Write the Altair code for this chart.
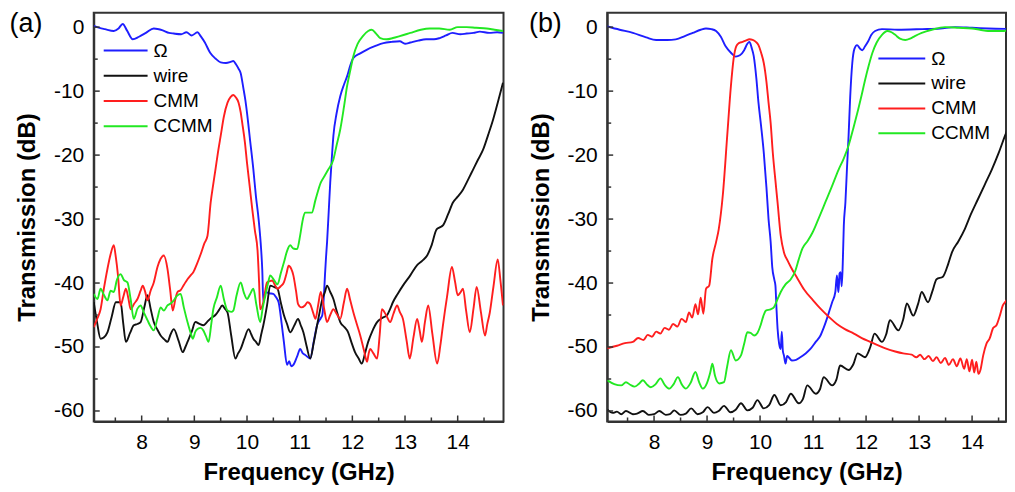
import altair as alt
import pandas as pd

FONT = "Liberation Sans"
SERIES = ["Ω", "wire", "CMM", "CCMM"]
COLORS = ["#1e1eff", "#111111", "#ff1e1e", "#22e822"]

X_MAJOR = [8, 9, 10, 11, 12, 13, 14]
X_MINOR = [7.5, 8.5, 9.5, 10.5, 11.5, 12.5, 13.5, 14.5]
Y_MAJOR = [0, -10, -20, -30, -40, -50, -60]
Y_MINOR = [-5, -15, -25, -35, -45, -55]

# ---------------- panel (a) ----------------
A_OMEGA = [(7.09,0.2),(7.2,-0.1),(7.3,-0.3),(7.47,-0.6),(7.56,-0.2),(7.64,0.5),(7.72,-0.5),(7.83,-1.9),(7.95,-1.5),(8.08,-0.9),(8.23,-0.2),(8.4,-0.5),(8.52,-0.9),(8.61,-1.0),(8.75,-1.1),(8.85,-0.8),(8.95,-1.3),(9.06,-0.8),(9.12,-1.4),(9.2,-2.4),(9.3,-4.0),(9.4,-4.9),(9.5,-5.5),(9.6,-5.6),(9.7,-5.4),(9.74,-5.3),(9.79,-5.8),(9.84,-6.5),(9.88,-7.2),(9.93,-9.5),(9.97,-11.5),(10.0,-13.4),(10.06,-17.8),(10.12,-22.2),(10.17,-26.5),(10.22,-30),(10.26,-33.8),(10.29,-38),(10.31,-43),(10.35,-41.4),(10.42,-41.6),(10.5,-41.7),(10.55,-42.2),(10.6,-43),(10.66,-46.5),(10.7,-49.2),(10.76,-52.8),(10.8,-52.2),(10.84,-53),(10.88,-52.8),(10.95,-51.5),(11.01,-50.3),(11.06,-51.0),(11.1,-51.2),(11.2,-51.8),(11.27,-49),(11.33,-46.6),(11.4,-45.5),(11.43,-45),(11.46,-42),(11.48,-38.8),(11.5,-36),(11.52,-33.6),(11.55,-29),(11.58,-24.3),(11.61,-20.5),(11.64,-17),(11.7,-13.5),(11.77,-10.8),(11.84,-9.0),(11.9,-7.7),(11.96,-6.0),(12.02,-4.8),(12.15,-4.1),(12.28,-3.5),(12.45,-2.9),(12.59,-2.5),(12.75,-2.3),(12.9,-2.2),(13.0,-2.6),(13.1,-2.4),(13.25,-2.1),(13.4,-1.9),(13.55,-1.9),(13.66,-1.7),(13.78,-1.3),(13.9,-0.9),(14.05,-1.1),(14.17,-1.0),(14.3,-0.9),(14.42,-0.7),(14.6,-0.9),(14.75,-0.8),(14.86,-0.9)]

A_WIRE = [(7.09,-43.0),(7.15,-46.0),(7.22,-48.7),(7.28,-48.5),(7.35,-47.7),(7.43,-45.3),(7.51,-43.0),(7.6,-43.0),(7.65,-46.3),(7.7,-49.2),(7.78,-47.8),(7.85,-46.6),(7.92,-46.4),(7.98,-46.1),(8.05,-43.8),(8.11,-41.9),(8.17,-44.0),(8.23,-46.1),(8.3,-47.3),(8.36,-48.2),(8.43,-48.8),(8.49,-49.2),(8.55,-48.0),(8.61,-47.2),(8.7,-49.0),(8.78,-50.8),(8.83,-50.0),(8.87,-49.2),(8.95,-47.6),(9.02,-46.1),(9.1,-46.4),(9.17,-46.6),(9.24,-46.1),(9.3,-45.6),(9.35,-45.3),(9.4,-45.0),(9.47,-44.2),(9.53,-43.5),(9.58,-44.0),(9.63,-44.6),(9.7,-48.2),(9.78,-51.8),(9.83,-51.0),(9.88,-50.3),(9.95,-48.7),(10.03,-47.2),(10.08,-48.0),(10.12,-48.7),(10.17,-49.2),(10.22,-49.7),(10.27,-48.0),(10.31,-46.6),(10.38,-43.5),(10.44,-40.4),(10.51,-40.6),(10.58,-40.9),(10.64,-43.0),(10.7,-45.0),(10.76,-46.4),(10.82,-47.7),(10.9,-46.6),(10.97,-45.6),(11.02,-46.6),(11.07,-47.7),(11.13,-49.8),(11.2,-51.8),(11.27,-49.2),(11.33,-46.6),(11.38,-44.5),(11.43,-42.5),(11.48,-41.4),(11.52,-40.4),(11.58,-41.4),(11.64,-42.5),(11.7,-44.3),(11.77,-46.1),(11.85,-46.9),(11.92,-47.7),(11.98,-49.2),(12.05,-50.8),(12.12,-51.8),(12.18,-52.6),(12.24,-51.0),(12.3,-49.2),(12.38,-47.5),(12.47,-46.1),(12.56,-45.5),(12.66,-45.0),(12.72,-44.0),(12.77,-43.0),(12.86,-41.7),(12.96,-40.4),(13.1,-38.8),(13.23,-37.2),(13.33,-36.5),(13.42,-35.7),(13.5,-34.2),(13.6,-31.6),(13.66,-31.3),(13.72,-31.0),(13.82,-29.2),(13.91,-27.4),(14.0,-26.5),(14.1,-25.4),(14.2,-23.8),(14.29,-22.3),(14.38,-20.8),(14.48,-19.2),(14.58,-16.8),(14.67,-14.5),(14.76,-11.8),(14.86,-8.7)]

A_CMM = [(7.09,-46.9),(7.16,-45.5),(7.22,-44.1),(7.28,-41.0),(7.35,-37.8),(7.41,-35.5),(7.47,-34.1),(7.51,-36),(7.55,-38.8),(7.6,-43.5),(7.65,-42.2),(7.7,-40.9),(7.75,-42.5),(7.79,-44.1),(7.86,-43.2),(7.92,-42.5),(7.98,-41.2),(8.02,-40.4),(8.07,-41.5),(8.11,-42.7),(8.17,-41.2),(8.23,-39.9),(8.3,-37.5),(8.36,-36.2),(8.42,-35.7),(8.49,-37.8),(8.54,-41),(8.59,-44.3),(8.64,-42.5),(8.68,-41.4),(8.74,-41.1),(8.8,-40.3),(8.87,-39.4),(8.93,-38.8),(8.98,-38.3),(9.05,-37.0),(9.12,-35.5),(9.19,-33.8),(9.25,-32.6),(9.31,-27.4),(9.36,-24.5),(9.4,-22.3),(9.45,-19.5),(9.5,-17.0),(9.56,-14.0),(9.63,-11.8),(9.69,-10.9),(9.74,-10.6),(9.79,-11.0),(9.84,-11.8),(9.88,-13.3),(9.91,-15.0),(9.96,-18.0),(10.0,-21.2),(10.05,-24.8),(10.1,-28.5),(10.15,-31.8),(10.2,-34.9),(10.23,-40),(10.25,-44.1),(10.31,-43.0),(10.38,-39.9),(10.43,-39.7),(10.48,-39.6),(10.53,-40.3),(10.58,-40.9),(10.64,-40.5),(10.7,-39.9),(10.75,-38.5),(10.79,-37.3),(10.84,-37.8),(10.88,-38.8),(10.93,-41.2),(10.97,-43.3),(11.03,-43.8),(11.1,-43.5),(11.15,-43.0),(11.2,-43.3),(11.25,-44.5),(11.3,-45.6),(11.35,-43.5),(11.4,-41.4),(11.46,-43.8),(11.52,-46.1),(11.58,-45.0),(11.64,-44.1),(11.7,-44.8),(11.77,-45.6),(11.84,-43.0),(11.9,-40.9),(11.96,-42.7),(12.02,-44.6),(12.08,-46.3),(12.15,-48.2),(12.22,-50.5),(12.28,-52.3),(12.31,-51.0),(12.34,-50.3),(12.4,-51.0),(12.47,-51.8),(12.52,-48.0),(12.56,-44.1),(12.64,-45.0),(12.72,-46.1),(12.78,-44.8),(12.85,-43.5),(12.9,-44.5),(12.96,-45.6),(13.03,-49),(13.09,-51.8),(13.16,-48.5),(13.23,-45.6),(13.28,-47.5),(13.32,-49.2),(13.38,-46.0),(13.44,-43.5),(13.52,-48),(13.61,-52.6),(13.67,-49.8),(13.72,-46.6),(13.8,-42.0),(13.89,-37.5),(13.95,-39.8),(14.0,-41.9),(14.05,-41.5),(14.1,-40.9),(14.16,-44.3),(14.23,-47.7),(14.3,-44.0),(14.36,-40.6),(14.44,-44.5),(14.52,-48.2),(14.56,-46.5),(14.61,-44.6),(14.68,-40.5),(14.76,-36.3),(14.81,-39.5),(14.86,-43.5)]

A_CCMM = [(7.09,-41.7),(7.16,-42.5),(7.22,-40.9),(7.28,-41.8),(7.35,-42.7),(7.41,-41.2),(7.47,-41.4),(7.53,-39.5),(7.6,-38.6),(7.66,-39.5),(7.73,-39.9),(7.79,-42.5),(7.85,-45.6),(7.92,-44.0),(7.98,-43.5),(8.04,-44.6),(8.11,-45.8),(8.17,-46.8),(8.23,-47.4),(8.3,-45.5),(8.36,-43.8),(8.42,-44.3),(8.49,-43.5),(8.55,-43.2),(8.61,-42.7),(8.67,-42.0),(8.74,-41.7),(8.8,-43.8),(8.87,-46.1),(8.93,-47.8),(8.97,-48.7),(9.02,-47.6),(9.06,-47.2),(9.12,-47.0),(9.17,-47.4),(9.22,-48.3),(9.27,-49.2),(9.32,-46.5),(9.36,-44.1),(9.43,-42.2),(9.5,-40.4),(9.56,-42.5),(9.63,-44.3),(9.7,-44.5),(9.74,-44.3),(9.8,-42.0),(9.88,-39.9),(9.94,-41.5),(10.0,-42.5),(10.06,-41.7),(10.12,-40.9),(10.18,-43.5),(10.25,-46.1),(10.3,-43.8),(10.35,-41.9),(10.4,-40.0),(10.44,-38.8),(10.51,-39.5),(10.58,-40.2),(10.64,-38.5),(10.7,-36.8),(10.76,-35.0),(10.82,-34.1),(10.88,-34.6),(10.95,-34.7),(11.01,-32.5),(11.05,-30.5),(11.1,-29.0),(11.17,-29.0),(11.23,-29.0),(11.3,-27),(11.4,-24.3),(11.47,-23.3),(11.54,-22.3),(11.64,-20.7),(11.7,-18.5),(11.77,-16.0),(11.84,-12.5),(11.9,-9.2),(11.96,-6.8),(12.02,-4.5),(12.1,-2.6),(12.2,-1.4),(12.3,-0.6),(12.37,-0.4),(12.45,-1.0),(12.53,-1.7),(12.65,-1.9),(12.77,-1.7),(12.9,-1.4),(13.1,-0.9),(13.3,-0.4),(13.47,-0.2),(13.65,-0.2),(13.85,-0.4),(14.0,0.0),(14.17,0.0),(14.35,-0.1),(14.55,-0.2),(14.7,-0.4),(14.86,-0.6)]

# ---------------- panel (b) ----------------
B_OMEGA = [(7.12,0.1),(7.35,-0.4),(7.6,-0.9),(7.85,-1.6),(8.04,-2.0),(8.25,-2.0),(8.41,-1.9),(8.58,-1.4),(8.73,-0.9),(8.88,-0.4),(8.98,-0.2),(9.08,-0.3),(9.17,-0.6),(9.26,-1.5),(9.35,-3.0),(9.45,-4.0),(9.54,-4.6),(9.62,-4.4),(9.7,-3.6),(9.76,-2.6),(9.8,-2.3),(9.84,-3.2),(9.88,-4.5),(9.93,-8),(9.97,-11.8),(10.02,-15.5),(10.07,-19.6),(10.12,-25),(10.16,-30),(10.2,-33.6),(10.23,-37.5),(10.27,-39.5),(10.29,-40.4),(10.31,-44),(10.33,-47.1),(10.36,-49.5),(10.39,-50.3),(10.41,-47.6),(10.43,-50.6),(10.45,-51.3),(10.48,-52.6),(10.51,-51.4),(10.54,-51.6),(10.6,-52.1),(10.68,-52.0),(10.76,-51.6),(10.86,-51.0),(10.95,-50.3),(11.05,-49.2),(11.14,-48.2),(11.2,-47.0),(11.26,-45.6),(11.31,-44.3),(11.36,-43.0),(11.42,-41.4),(11.45,-38.8),(11.47,-40.8),(11.48,-41.4),(11.5,-38.5),(11.52,-38.3),(11.54,-40.5),(11.56,-37),(11.58,-31),(11.61,-27.4),(11.64,-22),(11.67,-17),(11.7,-11),(11.74,-5.6),(11.78,-3.4),(11.83,-2.8),(11.88,-3.3),(11.93,-3.6),(11.98,-3.0),(12.04,-2.2),(12.1,-1.2),(12.17,-0.6),(12.3,-0.3),(12.6,-0.4),(13.06,-0.3),(13.4,-0.2),(13.68,0.0),(14.0,-0.1),(14.3,-0.2),(14.8,-0.3)]

B_WIRE = [(7.12,-59.8),(7.22,-60.3),(7.3,-60.1),(7.38,-60.5),(7.47,-60.0),(7.6,-60.5),(7.68,-60.4),(7.79,-60.0),(7.9,-60.6),(8.0,-60.5),(8.1,-60.0),(8.22,-60.6),(8.3,-60.5),(8.38,-59.9),(8.5,-60.6),(8.6,-60.4),(8.7,-59.6),(8.82,-60.5),(8.92,-60.2),(9.01,-59.4),(9.13,-60.3),(9.22,-60.0),(9.32,-59.2),(9.44,-60.2),(9.54,-59.8),(9.64,-58.8),(9.76,-59.9),(9.86,-59.5),(9.95,-58.3),(10.07,-59.6),(10.17,-59.1),(10.27,-57.5),(10.39,-59.1),(10.49,-58.6),(10.58,-57.3),(10.73,-58.8),(10.81,-58.1),(10.89,-56.0),(11.05,-57.3),(11.13,-56.6),(11.2,-54.7),(11.36,-56.0),(11.44,-55.1),(11.51,-52.9),(11.67,-53.6),(11.76,-52.7),(11.84,-51.0),(11.98,-51.6),(12.08,-50.0),(12.16,-47.9),(12.3,-49.2),(12.38,-48.0),(12.45,-45.8),(12.61,-47.4),(12.7,-45.7),(12.77,-43.2),(12.89,-45.1),(12.98,-43.3),(13.05,-41.4),(13.17,-43.0),(13.25,-41.3),(13.33,-39.4),(13.45,-39.0),(13.55,-37.0),(13.62,-35.2),(13.74,-33.5),(13.86,-31.6),(13.98,-29.2),(14.11,-26.9),(14.24,-24.6),(14.37,-22.3),(14.5,-19.7),(14.62,-17.0),(14.72,-14.9),(14.8,-12.9)]

B_CMM = [(7.12,-50.2),(7.3,-49.8),(7.45,-49.4),(7.6,-49.2),(7.7,-48.6),(7.8,-48.9),(7.88,-48.1),(7.96,-48.4),(8.04,-47.6),(8.12,-47.9),(8.2,-47.0),(8.28,-47.3),(8.36,-46.4),(8.44,-46.8),(8.52,-45.6),(8.6,-46.1),(8.66,-44.6),(8.72,-45.4),(8.78,-43.3),(8.83,-44.9),(8.88,-42.3),(8.93,-44.8),(8.98,-40.9),(9.04,-40.4),(9.1,-36.2),(9.17,-33.6),(9.22,-31.6),(9.3,-26),(9.38,-17),(9.45,-9.2),(9.5,-5),(9.55,-3.0),(9.6,-2.5),(9.67,-2.3),(9.73,-2.1),(9.8,-1.9),(9.86,-2.0),(9.92,-2.3),(9.97,-2.8),(10.02,-4.0),(10.07,-5.6),(10.12,-8.5),(10.16,-11.8),(10.2,-15),(10.24,-19.6),(10.29,-24),(10.33,-27.4),(10.39,-32.6),(10.45,-35.2),(10.52,-36.5),(10.58,-37.5),(10.7,-39.2),(10.83,-41.0),(11.0,-42.7),(11.14,-44.0),(11.3,-45.3),(11.45,-46.4),(11.6,-47.2),(11.77,-47.9),(11.92,-48.6),(12.08,-49.2),(12.24,-49.8),(12.39,-50.3),(12.55,-50.7),(12.7,-51.0),(12.86,-51.2),(12.95,-51.6),(13.02,-51.2),(13.1,-51.9),(13.18,-51.4),(13.26,-52.2),(13.33,-51.6),(13.41,-52.5),(13.49,-51.7),(13.56,-52.8),(13.64,-51.9),(13.71,-53.0),(13.78,-51.8),(13.85,-53.4),(13.9,-51.9),(13.95,-53.8),(14.0,-52.0),(14.04,-54.0),(14.08,-52.3),(14.12,-54.2),(14.16,-53.5),(14.21,-51.3),(14.27,-49.5),(14.33,-48.7),(14.4,-47.0),(14.46,-46.6),(14.52,-45.2),(14.58,-43.5),(14.64,-42.8),(14.71,-41.9),(14.8,-40.4)]

B_CCMM = [(7.12,-55.2),(7.25,-55.8),(7.38,-56.0),(7.47,-55.5),(7.55,-55.9),(7.63,-56.2),(7.71,-55.8),(7.79,-55.2),(7.87,-55.9),(7.94,-56.3),(8.03,-55.8),(8.12,-54.9),(8.2,-55.9),(8.29,-56.5),(8.37,-55.8),(8.45,-54.7),(8.52,-55.8),(8.6,-56.5),(8.69,-55.6),(8.78,-53.9),(8.85,-55.5),(8.92,-56.5),(9.0,-55.6),(9.06,-54),(9.1,-52.6),(9.15,-54.5),(9.23,-55.7),(9.32,-55.5),(9.38,-53),(9.45,-50.5),(9.54,-52.1),(9.64,-51.3),(9.7,-49.5),(9.76,-47.7),(9.82,-47.8),(9.89,-48.2),(9.95,-47.8),(10.01,-46.6),(10.06,-45.2),(10.11,-44.3),(10.2,-44.1),(10.26,-43.8),(10.33,-42.5),(10.39,-41.4),(10.48,-40.2),(10.58,-39.4),(10.66,-38.2),(10.73,-36.3),(10.8,-34.6),(10.9,-33.4),(10.99,-32.1),(11.1,-30.0),(11.23,-27.4),(11.35,-25),(11.48,-22.3),(11.58,-20.5),(11.67,-18.5),(11.76,-15.8),(11.85,-12.9),(11.92,-10.5),(11.98,-8.3),(12.05,-6),(12.12,-4.0),(12.2,-2.4),(12.3,-1.2),(12.4,-0.6),(12.48,-0.8),(12.55,-1.2),(12.64,-1.8),(12.74,-2.0),(12.83,-1.8),(12.92,-1.4),(13.05,-0.9),(13.24,-0.4),(13.49,0.0),(13.75,-0.1),(14.0,-0.2),(14.15,-0.4),(14.3,-0.6),(14.55,-0.6),(14.8,-0.4)]


def series_frame(pairs_by_name):
    rows = []
    for name, pts in pairs_by_name.items():
        for i, (f, t) in enumerate(pts):
            rows.append({"series": name, "freq": f, "trans": t, "order": i})
    return pd.DataFrame(rows)


H = 410
AXIS_COLOR = "#333333"
Y_DOMAIN = [-61.64, 2.26]

X_AXIS = alt.Axis(values=X_MAJOR, title="Frequency (GHz)", labelPadding=10, titlePadding=8)
Y_AXIS = alt.Axis(values=Y_MAJOR, title="Transmission (dB)", labelExpr="datum.value + ''",
                  labelPadding=10, titlePadding=14)


def panel(df, xdom, width, tag, tag_x, leg_x0, leg_x1, leg_tx, leg_y0, leg_dy):
    xs = alt.Scale(domain=xdom, nice=False, zero=False)
    ys = alt.Scale(domain=Y_DOMAIN, nice=False, zero=False)
    cs = alt.Scale(domain=SERIES, range=COLORS)

    lines = alt.Chart(df).mark_line(strokeWidth=1.9, clip=True, interpolate="monotone").encode(
        x=alt.X("freq:Q", scale=xs, axis=X_AXIS),
        y=alt.Y("trans:Q", scale=ys, axis=Y_AXIS),
        color=alt.Color("series:N", scale=cs, legend=None),
        order="order:Q",
    )

    layers = [lines]
    for vals, ln in ((X_MAJOR, 6), (X_MINOR, 4)):
        layers.append(alt.Chart(pd.DataFrame({"freq": vals})).mark_rule(
            color=AXIS_COLOR, strokeWidth=1.5).encode(
            x=alt.X("freq:Q", scale=xs, axis=X_AXIS),
            y=alt.value(H), y2=alt.value(H - ln)))
    for vals, ln in ((Y_MAJOR, 6), (Y_MINOR, 4)):
        layers.append(alt.Chart(pd.DataFrame({"trans": vals})).mark_rule(
            color=AXIS_COLOR, strokeWidth=1.5).encode(
            y=alt.Y("trans:Q", scale=ys, axis=Y_AXIS),
            x=alt.value(0), x2=alt.value(ln)))

    for i, name in enumerate(SERIES):
        d = pd.DataFrame({"series": [name]})
        yy = leg_y0 + i * leg_dy
        layers.append(alt.Chart(d).mark_rule(strokeWidth=2).encode(
            color=alt.Color("series:N", scale=cs, legend=None),
            x=alt.value(leg_x0), x2=alt.value(leg_x1), y=alt.value(yy)))
        layers.append(alt.Chart(d).mark_text(
            align="left", baseline="middle", fontSize=19, font=FONT,
            color="#000000").encode(
            text="series:N", x=alt.value(leg_tx), y=alt.value(yy)))

    layers.append(alt.Chart(pd.DataFrame({"tag": [tag]})).mark_text(
        fontSize=27, font=FONT, color="#000000", baseline="middle",
        align="center").encode(text="tag:N", x=alt.value(tag_x), y=alt.value(11)))

    return alt.layer(*layers).properties(width=width, height=H)


df_a = series_frame({"Ω": A_OMEGA, "wire": A_WIRE, "CMM": A_CMM, "CCMM": A_CCMM})
df_b = series_frame({"Ω": B_OMEGA, "wire": B_WIRE, "CMM": B_CMM, "CCMM": B_CCMM})

pa = panel(df_a, [7.09, 14.87], 411, "(a)", -68, 10, 54, 60, 38, 25.3)
pb = panel(df_b, [7.116, 14.64], 400, "(b)", -62, 272, 319, 325, 46, 25)

chart = alt.hconcat(pa, pb, spacing=23).resolve_scale(
    x="independent", y="independent"
).properties(
    padding={"left": 0, "top": 0, "right": 0, "bottom": 0},
    background="white",
).configure_view(
    stroke=AXIS_COLOR, strokeWidth=2
).configure_axis(
    grid=False, ticks=False, domainColor=AXIS_COLOR, domainWidth=2,
    labelFont=FONT, labelFontSize=21, labelColor="#000000",
    titleFont=FONT, titleFontSize=24, titleFontWeight="bold", titleColor="#000000",
)

chart.save("out.html", embed_options={"renderer": "svg", "actions": False})
